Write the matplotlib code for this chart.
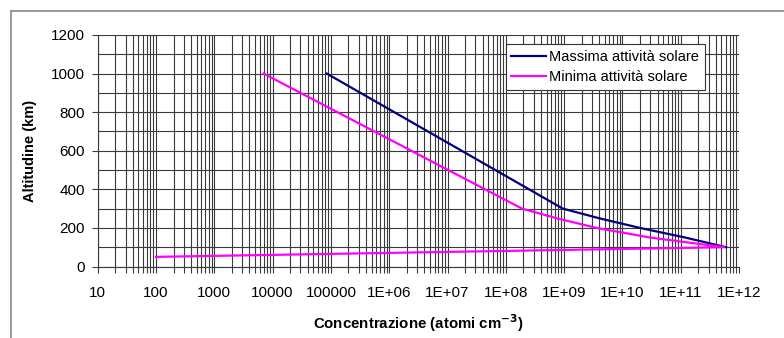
import matplotlib
matplotlib.use("Agg")
import matplotlib.pyplot as plt
from matplotlib.lines import Line2D
from matplotlib.ticker import LogLocator, FixedLocator, NullFormatter, MultipleLocator

plt.rcParams['font.family'] = ['Liberation Sans', 'DejaVu Sans']

# Data (concentration in atoms/cm^3, altitude in km)
max_label = "Massima attività solare"
max_alt = [1000, 300, 250, 200, 150, 100]
max_conc = [8.5e4, 9.5e8, 4.0e9, 2.0e10, 1.2e11, 6.0e11]

min_label = "Minima attività solare"
min_alt = [1000, 300, 250, 200, 150, 100, 50]
min_conc = [7.0e3, 1.9e8, 7.5e8, 3.6e9, 3.0e10, 5.6e11, 100]

x_ticks = [10, 100, 1000, 10000, 100000, 1e6, 1e7, 1e8, 1e9, 1e10, 1e11, 1e12]
x_tick_labels = ["10", "100", "1000", "10000", "100000", "1E+06", "1E+07",
                 "1E+08", "1E+09", "1E+10", "1E+11", "1E+12"]
y_ticks = [0, 200, 400, 600, 800, 1000, 1200]

fig = plt.figure(figsize=(7.84, 3.38), dpi=100)
ax = fig.add_axes([97.7/784, 1-266.5/338, (739-97.7)/784, (266.5-35)/338])

ax.plot(max_conc, max_alt, color='#000080', lw=1.6, label=max_label, zorder=3)
ax.plot(min_conc, min_alt, color='#FF00FF', lw=1.6, label=min_label, zorder=3)

ax.set_xscale('log')
ax.set_xlim(10, 1e12)
ax.set_ylim(0, 1200)

ax.xaxis.set_major_locator(FixedLocator(x_ticks))
ax.set_xticklabels(x_tick_labels)
ax.xaxis.set_minor_locator(LogLocator(base=10, subs=range(2, 10), numticks=100))
ax.xaxis.set_minor_formatter(NullFormatter())
ax.set_yticks(y_ticks)
ax.yaxis.set_minor_locator(MultipleLocator(100))

ax.grid(True, which='both', axis='x', color='#3a3a3a', lw=0.8)
ax.grid(True, which='both', axis='y', color='#3a3a3a', lw=0.8)
ax.set_axisbelow(True)

ax.tick_params(axis='x', which='major', length=4, width=0.8, pad=10, labelsize=11, color='#3a3a3a')
ax.tick_params(axis='x', which='minor', length=4, width=0.8, color='#3a3a3a')
ax.tick_params(axis='y', which='major', length=4, width=0.8, pad=5, labelsize=11, color='#3a3a3a')
ax.tick_params(axis='y', which='minor', length=0)

for s in ['top', 'right']:
    ax.spines[s].set_visible(False)
for s in ['left', 'bottom']:
    ax.spines[s].set_color('#3a3a3a')
    ax.spines[s].set_linewidth(0.8)

ax.set_ylabel("Altitudine (km)", fontsize=10.5, fontweight='bold', labelpad=10)
ax.set_xlabel("Concentrazione (atomi cm$^{\\mathbf{-3}}$)", fontsize=10.8, fontweight='bold', labelpad=9)

leg = ax.legend(loc='upper right', bbox_to_anchor=(0.947, 0.961), fontsize=10.5,
                frameon=True, fancybox=False, edgecolor='#333333', framealpha=1,
                handlelength=2.4, handletextpad=0.2, borderpad=0.4, labelspacing=0.45,
                borderaxespad=0)
leg.get_frame().set_linewidth(0.8)

# outer frame (left and top edges visible)
fig.add_artist(Line2D([11/784, 11/784], [0, 1-11/338], transform=fig.transFigure,
                      color='#888888', lw=1.2))
fig.add_artist(Line2D([11/784, 1], [1-11/338, 1-11/338], transform=fig.transFigure,
                      color='#888888', lw=1.2))

fig.savefig("out.png", dpi=100)
